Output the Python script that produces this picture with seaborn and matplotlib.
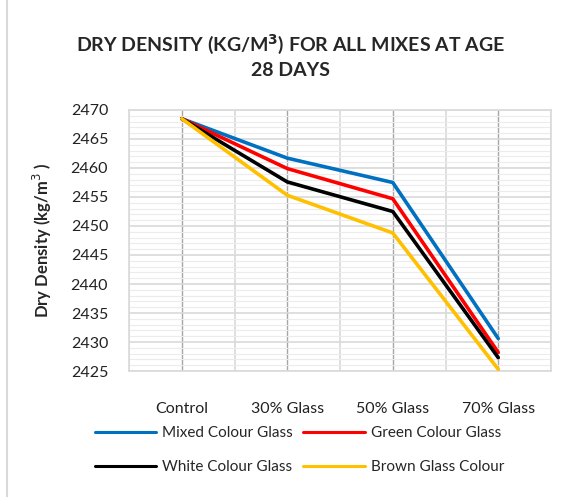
import pandas as pd
import seaborn as sns
import matplotlib.pyplot as plt
from matplotlib.ticker import MultipleLocator, FixedLocator
from matplotlib.lines import Line2D

mixes = ['Control', '30% Glass', '50% Glass', '70% Glass']
mixed = [2468.5, 2461.7, 2457.5, 2430.6]
green = [2468.5, 2459.9, 2454.7, 2428.2]
white = [2468.5, 2457.6, 2452.5, 2427.3]
brown = [2468.5, 2455.3, 2448.8, 2425.3]
series = ['Mixed Colour Glass', 'Green Colour Glass', 'White Colour Glass', 'Brown Glass Colour']
colors = ['#0070C0', '#FF0000', '#000000', '#FFC000']

rows = []
for name, vals in zip(series, [mixed, green, white, brown]):
    for i, v in enumerate(vals):
        rows.append({'Mix': i, 'Density': v, 'Series': name})
df = pd.DataFrame(rows)

sns.set_style('white')
plt.rcParams['font.family'] = ['Lato', 'DejaVu Sans']

fig = plt.figure(figsize=(5.78, 4.97), dpi=100)
ax = fig.add_axes([0.2232, 0.2535, 0.9533 - 0.2232, 0.7787 - 0.2535])

# outer chart border
fig.add_artist(Line2D([7 / 578, 7 / 578], [0, 1], color='#d9d9d9', lw=1.5))

sns.lineplot(data=df, x='Mix', y='Density', hue='Series', palette=colors,
             hue_order=series, linewidth=2.6, ax=ax, legend=False, zorder=3)

ax.set_xlim(-0.5, 3.5)
ax.set_ylim(2425, 2470)
ax.yaxis.set_major_locator(MultipleLocator(5))
ax.yaxis.set_minor_locator(MultipleLocator(1))
ax.xaxis.set_major_locator(FixedLocator(range(len(mixes))))
ax.xaxis.set_minor_locator(FixedLocator([-0.5, 0.5, 1.5, 2.5, 3.5]))
ax.set_xticklabels(mixes)

ax.grid(which='major', axis='y', color='#d9d9d9', lw=1.2)
ax.grid(which='minor', axis='y', color='#ececec', lw=0.8)
ax.grid(which='major', axis='x', color='#a6a6a6', lw=1.0)
ax.grid(which='minor', axis='x', color='#d9d9d9', lw=1.2)
for s in ax.spines.values():
    s.set_color('#d9d9d9')
    s.set_linewidth(1.2)

ax.tick_params(which='both', length=0, labelsize=11.5, colors='#222222')
ax.tick_params(axis='x', pad=22)
ax.tick_params(axis='y', pad=15)
ax.set_xlabel('')
ax.set_ylabel('Dry Density (kg/m$^3$ )', fontsize=12, fontweight='bold', labelpad=12)

fig.text(0.502, 0.888, 'DRY DENSITY (KG/M$^\\mathbf{3}$) FOR ALL MIXES AT AGE\n28 DAYS',
         ha='center', va='center', fontsize=14, fontweight='bold', linespacing=1.45)

# matplotlib fills legend columns first: reorder so rows read Mixed/Green, White/Brown
order = [0, 2, 1, 3]
handles = [Line2D([], [], color=colors[i], lw=2.2) for i in order]
labels = [series[i] for i in order]
fig.legend(handles, labels, loc='center', bbox_to_anchor=(0.518, 0.094), ncol=2,
           frameon=False, fontsize=11, handlelength=4.0, handletextpad=0.4,
           columnspacing=0.7, labelspacing=1.3)

fig.savefig('out.png', dpi=100)
